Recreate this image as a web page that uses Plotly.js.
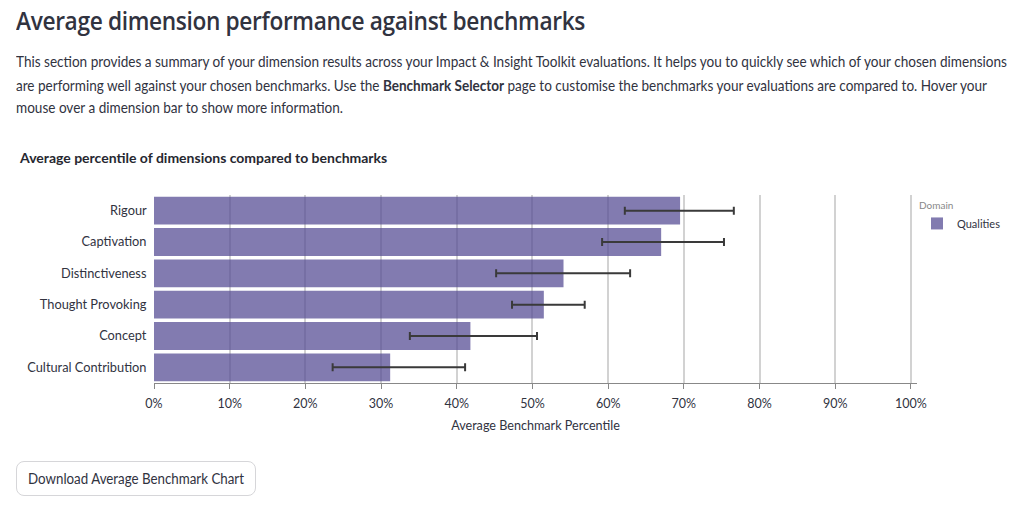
<!DOCTYPE html>
<html>
<head>
<meta charset="utf-8">
<script src="https://cdn.plot.ly/plotly-3.0.1.min.js"></script>
<style>
  html, body { margin: 0; padding: 0; background: #fff; width: 1024px; height: 506px; overflow: hidden; }
  body { font-family: "Lato", "Noto Sans", sans-serif; color: #31333F; position: relative; }
  .fit { position: absolute; white-space: nowrap; transform-origin: 0 50%; }
  h1.fit { left: 16px; top: 2px; margin: 0; font-family: "Open Sans", sans-serif; font-weight: 600; font-size: 26px; color: #31333F; letter-spacing: -0.4px; }
  .line { left: 16px; font-size: 15px; line-height: 20px; color: #31333F; }
  .line b { font-weight: 700; }
  #chart { position: absolute; left: 0; top: 130px; width: 1024px; height: 310px; }
  .btn { position: absolute; left: 16px; top: 461px; width: 240px; height: 35px; box-sizing: border-box; border: 1px solid #d6d6d9; border-radius: 8px; background: #fff; }
  .btn span { left: 11px; top: 7px; font-size: 14.5px; line-height: 20px; color: #31333F; }
</style>
</head>
<body>
<h1 class="fit" data-w="569">Average dimension performance against benchmarks</h1>
<div class="fit line" style="top:51px" data-w="991">This section provides a summary of your dimension results across your Impact &amp; Insight Toolkit evaluations. It helps you to quickly see which of your chosen dimensions</div>
<div class="fit line" style="top:75px" data-w="971">are performing well against your chosen benchmarks. Use the <b>Benchmark Selector</b> page to customise the benchmarks your evaluations are compared to. Hover your</div>
<div class="fit line" style="top:97px" data-w="327">mouse over a dimension bar to show more information.</div>
<div id="chart"></div>
<div class="btn"><span class="fit" data-w="216">Download Average Benchmark Chart</span></div>
<script>
const dimensions = ["Rigour", "Captivation", "Distinctiveness", "Thought Provoking", "Concept", "Cultural Contribution"];
const avgPercentile = [0.695, 0.670, 0.541, 0.515, 0.418, 0.312];
const errLow = [0.622, 0.592, 0.452, 0.473, 0.338, 0.236];
const errHigh = [0.766, 0.753, 0.629, 0.569, 0.506, 0.411];
const domainName = "Qualities";
const tickVals = [0, 0.1, 0.2, 0.3, 0.4, 0.5, 0.6, 0.7, 0.8, 0.9, 1.0];
const tickText = ["0%", "10%", "20%", "30%", "40%", "50%", "60%", "70%", "80%", "90%", "100%"];

document.querySelectorAll(".fit").forEach(el => {
  const target = parseFloat(el.getAttribute("data-w"));
  const w = el.getBoundingClientRect().width;
  if (w > 0) el.style.transform = "scaleX(" + (target / w) + ")";
});

const plus = avgPercentile.map((v, i) => errHigh[i] - v);
const minus = avgPercentile.map((v, i) => v - errLow[i]);

const trace = {
  type: "bar",
  orientation: "h",
  name: domainName,
  x: avgPercentile,
  y: dimensions,
  marker: { color: "rgba(82,72,145,0.72)" },
  error_x: { type: "data", symmetric: false, array: plus, arrayminus: minus, color: "#3a3a3a", thickness: 2, width: 4 },
  showlegend: true,
  hoverinfo: "x+y"
};

const font = "Lato, 'Noto Sans', sans-serif";
const layout = {
  width: 1024, height: 310,
  margin: { l: 154, r: 107, t: 65, b: 57 },
  paper_bgcolor: "#fff", plot_bgcolor: "#fff",
  font: { family: font, size: 12, color: "#31333F" },
  title: { text: "<b>Average percentile of dimensions compared to benchmarks</b>", x: 20/1024, xanchor: "left", xref: "container", y: 1 - 28/310, yanchor: "middle", yref: "container", font: { family: font, size: 14, color: "#262730" } },
  bargap: 0.11,
  xaxis: {
    range: [0, 1.008], tickvals: tickVals, ticktext: tickText,
    showgrid: true, gridcolor: "#d2d2d2", gridwidth: 1.5,
    zeroline: false, showline: true, linecolor: "#888", linewidth: 1,
    ticks: "outside", ticklen: 5, tickcolor: "#888", ticklabelstandoff: 4,
    tickfont: { size: 12.5, color: "#31333F" },
    title: { text: "Average Benchmark Percentile", font: { size: 12.6, color: "#31333F" }, standoff: 11 },
    fixedrange: true
  },
  yaxis: {
    autorange: "reversed", showgrid: false, zeroline: false, showline: false, ticks: "",
    tickfont: { size: 12.8, color: "#31333F" }, ticksuffix: "  ", fixedrange: true
  },
  legend: {
    x: 1.0, xanchor: "left", y: 0.995, yanchor: "top",
    title: { text: "Domain", font: { size: 10, color: "#888" } },
    font: { size: 11, color: "#31333F" },
    itemwidth: 30, bgcolor: "rgba(0,0,0,0)"
  },
  showlegend: true
};

Plotly.newPlot("chart", [trace], layout, { displayModeBar: false });
</script>
</body>
</html>
